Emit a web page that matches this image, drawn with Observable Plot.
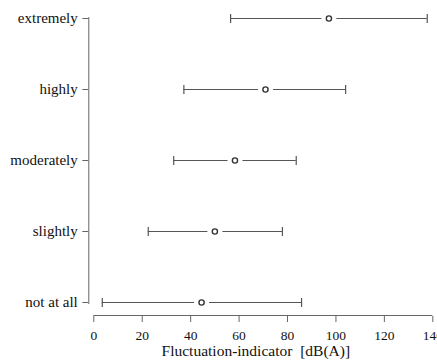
<!DOCTYPE html>
<html><head><meta charset="utf-8">
<script src="https://cdn.jsdelivr.net/npm/d3@7"></script>
<script src="https://cdn.jsdelivr.net/npm/@observablehq/plot@0.6"></script>
<style>body{margin:0;background:#fff}</style>
</head><body><div id="chart"></div>
<script>
const categories = ["extremely", "highly", "moderately", "slightly", "not at all"];
const lower = [56.5, 37.2, 33.0, 22.5, 3.5];
const mean = [97.1, 70.9, 58.3, 50.0, 44.5];
const upper = [137.7, 104.0, 83.6, 77.9, 85.8];
const xTicks = [0, 20, 40, 60, 80, 100, 120, 140];
const xLabel = "Fluctuation-indicator\u00a0 [dB(A)]";

const data = categories.map((c, i) => ({category: c, lower: lower[i], mean: mean[i], upper: upper[i]}));
const cap = {draw(ctx, size) { const h = Math.sqrt(size / Math.PI); ctx.moveTo(0, -h); ctx.lineTo(0, h); }};

const chart = Plot.plot({
  width: 437, height: 363,
  marginLeft: 88.3, marginRight: 4.7, marginTop: 17, marginBottom: 60,
  x: {domain: [0, 140], insetLeft: 5},
  y: {type: "point", domain: categories, padding: 0},
  style: {fontFamily: "'Liberation Serif', 'DejaVu Serif', serif", fontSize: "15px", color: "#111", background: "#fff", overflow: "visible"},
  marks: [
    Plot.frame({anchor: "left", stroke: "#666"}),
    Plot.axisY({tickSize: 6, tickPadding: 5, label: null, color: "#666", fill: "#111", fontSize: 15}),
    Plot.ruleY([categories[categories.length - 1]], {x1: d3.min(xTicks), x2: d3.max(xTicks), dy: 13, stroke: "#666"}),
    Plot.axisX(xTicks, {dy: 13, tickSize: 6, tickPadding: 8, label: null, color: "#666", fill: "#111", fontSize: 13.5}),
    Plot.ruleY(data, {y: "category", x1: "lower", x2: "upper", stroke: "#555", strokeWidth: 1.2}),
    Plot.dot(data, {x: "lower", y: "category", symbol: cap, r: 4.5, stroke: "#555", strokeWidth: 1.2}),
    Plot.dot(data, {x: "upper", y: "category", symbol: cap, r: 4.5, stroke: "#555", strokeWidth: 1.2}),
    Plot.dot(data, {x: "mean", y: "category", r: 7.5, fill: "white", stroke: null}),
    Plot.dot(data, {x: "mean", y: "category", r: 2.6, fill: "white", stroke: "#333", strokeWidth: 1.4}),
    Plot.text([xLabel], {text: d => d, frameAnchor: "bottom", lineAnchor: "middle", dx: -5, dy: 48, fontSize: 15.5, fill: "#111"})
  ]
});
document.getElementById("chart").appendChild(chart);
</script>
</body></html>
